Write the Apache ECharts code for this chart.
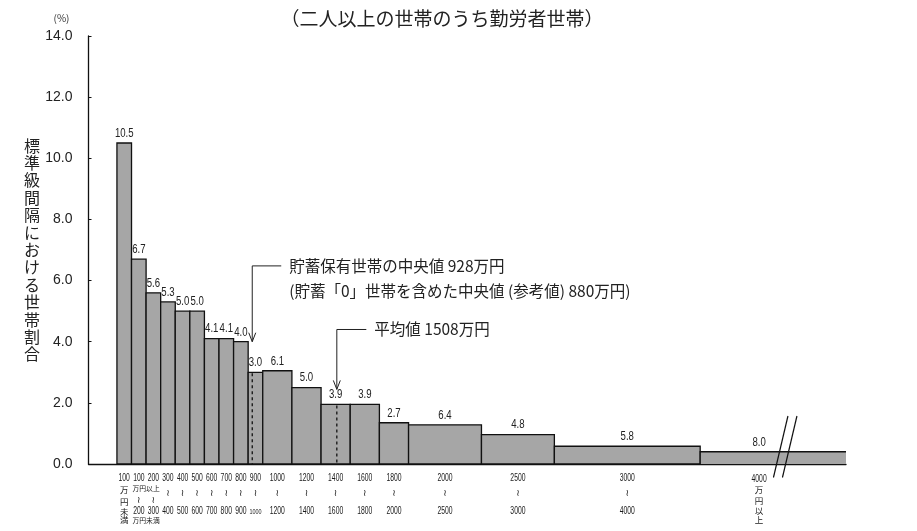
<!DOCTYPE html>
<html><head><meta charset="utf-8">
<script src="https://cdn.jsdelivr.net/npm/echarts@6/dist/echarts.min.js"></script>
<style>html,body{margin:0;padding:0;background:#fff}#c{width:917px;height:531px}</style>
</head><body><div id="c"></div>
<script>
// ---- data ----
const binStart = [0,100,200,300,400,500,600,700,800,900,1000,1200,1400,1600,1800,2000,2500,3000,4000];
const binEnd   = [100,200,300,400,500,600,700,800,900,1000,1200,1400,1600,1800,2000,2500,3000,4000,5000];
const shareLabels = ['10.5','6.7','5.6','5.3','5.0','5.0','4.1','4.1','4.0','3.0','6.1','5.0','3.9','3.9','2.7','6.4','4.8','5.8','8.0'];
const densityHeights = [10.5,6.7,5.6,5.3,5.0,5.0,4.1,4.1,4.0,3.0,3.05,2.5,1.95,1.95,1.35,1.28,0.96,0.58,0.4];
const lowerLabels = ['100','100','200','300','400','500','600','700','800','900','1000','1200','1400','1600','1800','2000','2500','3000','4000'];
const upperLabels = ['','200','300','400','500','600','700','800','900','1000','1200','1400','1600','1800','2000','2500','3000','4000',''];
const firstUnit = ['万','円','未','満'];
const lastUnit = ['万','円','以','上'];
const sharedNotes = ['万円以上','万円未満'];
const markerValues = [928, 1508];
const markerTexts = [
  ['貯蓄保有世帯の中央値 928万円', '(貯蓄「0」世帯を含めた中央値 (参考値) 880万円)'],
  ['平均値 1508万円']
];
const yTickLabels = ['0.0','2.0','4.0','6.0','8.0','10.0','12.0','14.0'];
const titleText = '（二人以上の世帯のうち勤労者世帯）';
const yTitle = '標準級間隔における世帯割合';
const unitText = '(%)';

// ---- rendering ----
const SANS = '"Liberation Sans","DejaVu Sans",sans-serif';
const JP = '"Noto Sans CJK JP","Noto Sans",sans-serif';
const TXT = '#222';

function txt(x, y, s, size, family, sx) {
  return {type:'text', x:x, y:y, scaleX: sx || 1,
    style:{text:s, align:'center', verticalAlign:'middle', font: size+'px '+family, fill:'#1a1a1a'}};
}

function renderBar(params, api) {
  const i = params.dataIndex;
  const last = i === binStart.length - 1;
  const x0 = api.value(0), x1 = api.value(1), h = api.value(2);
  const p0 = api.coord([x0, 0]), p1 = api.coord([x1, h]);
  const base = p0[1];
  const ch = [];
  ch.push({type:'rect', shape:{x:p0[0], y:p1[1], width:p1[0]-p0[0], height:base-p1[1]},
    style:{fill:'#a6a6a6', stroke: last ? null : '#111', lineWidth:1.3}});
  if (last) {
    ch.push({type:'polyline', shape:{points:[[p0[0],base],[p0[0],p1[1]],[p1[0],p1[1]]]},
      style:{stroke:'#111', lineWidth:1.3, fill:null}});
    const b = api.coord([4523, 0]);
    [0, 9].forEach(function(d){
      ch.push({type:'line', shape:{x1:b[0]+d-3, y1:base+13.5, x2:b[0]+d+11.5, y2:base-48},
        style:{stroke:'#111', lineWidth:1.2}, z2: 10});
    });
  }
  const cx = (p0[0]+p1[0])/2 + (last ? -14 : 0);
  ch.push({type:'text', x:cx, y:p1[1]-3.5, scaleX:0.8,
    style:{text:shareLabels[i], align:'center', verticalAlign:'bottom', font:'12px '+SANS, fill:TXT}});
  const NS = 0.68, NF = 10, TF = 9.5, TILDE = '"DejaVu Sans",sans-serif';
  if (i === 0) {
    ch.push(txt(cx, base+14.5, lowerLabels[i], NF, SANS, NS));
    [26, 37.5, 47.5, 56].forEach(function(o, k){ ch.push(txt(cx, base+o, firstUnit[k], 8.5, JP)); });
  } else if (last) {
    ch.push(txt(cx, base+15, lowerLabels[i], NF, SANS, NS));
    [26, 36.5, 46.5, 56].forEach(function(o, k){ ch.push(txt(cx, base+o, lastUnit[k], 8.5, JP)); });
  } else if (i === 1 || i === 2) {
    ch.push(txt(cx, base+14.5, lowerLabels[i], NF, SANS, NS));
    ch.push(txt(cx, base+37, '≀', TF, TILDE));
    ch.push(txt(cx, base+47.5, upperLabels[i], NF, SANS, NS));
    if (i === 1) {
      ch.push(txt(p1[0], base+24.5, sharedNotes[0], 6.8, JP));
      ch.push(txt(p1[0], base+56, sharedNotes[1], 6.8, JP));
    }
  } else {
    ch.push(txt(cx, base+14.5, lowerLabels[i], NF, SANS, NS));
    ch.push(txt(cx, base+29.5, '≀', TF, TILDE));
    ch.push(txt(cx, base+47.5, upperLabels[i], i === 9 ? 8 : NF, SANS, NS));
  }
  return {type:'group', children:ch};
}

const arrowGeom = [{elbow:6.48, tip:4.0, len:29}, {elbow:4.4, tip:2.44, len:29.5}];

function renderMarker(params, api) {
  const i = params.dataIndex;
  const v = api.value(0);
  let bin = 0;
  for (let k = 0; k < binStart.length; k++) if (v >= binStart[k] && v < binEnd[k]) bin = k;
  const top = api.coord([v, densityHeights[bin]]);
  const bottom = api.coord([v, 0]);
  const g = arrowGeom[i];
  const e = api.coord([v, g.elbow]);
  const t = api.coord([v, g.tip]);
  const ch = [];
  ch.push({type:'line', shape:{x1:top[0], y1:top[1]+1, x2:bottom[0], y2:bottom[1]},
    style:{stroke:'#111', lineWidth:1.3, lineDash:[3,3]}});
  ch.push({type:'polyline', shape:{points:[[e[0]+g.len, e[1]],[e[0], e[1]],[t[0], t[1]]]},
    style:{stroke:'#222', lineWidth:1, fill:null}});
  ch.push({type:'polyline', shape:{points:[[t[0]-3.5, t[1]-9],[t[0], t[1]],[t[0]+3.5, t[1]-9]]},
    style:{stroke:'#222', lineWidth:1, fill:null}});
  markerTexts[i].forEach(function(s, k){
    ch.push({type:'text', x:e[0]+g.len+8, y:e[1]+k*25,
      style:{text:s, align:'left', verticalAlign:'middle', font:'15.5px '+JP, fill:TXT}});
  });
  return {type:'group', children:ch};
}

const chart = echarts.init(document.getElementById('c'), null, {renderer:'canvas'});
chart.setOption({
  animation:false,
  backgroundColor:'#fff',
  grid:{left:88.5, right:71, top:36, bottom:67, containLabel:false},
  xAxis:{type:'value', min:-195, max:5000, axisLine:{show:true, onZero:false, lineStyle:{color:'#111', width:1.3}},
    axisTick:{show:false}, axisLabel:{show:false}, splitLine:{show:false}},
  yAxis:{type:'value', min:0, max:14, interval:2,
    axisLine:{show:true, onZero:false, lineStyle:{color:'#111', width:1.3}},
    axisTick:{show:true, inside:true, length:3, lineStyle:{color:'#111'}},
    axisLabel:{margin:16, fontSize:14, fontFamily:SANS, color:TXT, formatter:function(v){ return yTickLabels[Math.round(v/2)]; }},
    splitLine:{show:false}},
  graphic:[
    {type:'text', x:442, y:19, style:{text:titleText, align:'center', verticalAlign:'middle', font:'19px '+JP, fill:TXT}},
    {type:'text', x:61.5, y:18, style:{text:unitText, align:'center', verticalAlign:'middle', font:'10px '+JP, fill:'#333'}},
    {type:'text', x:32, y:250, style:{text:yTitle.split('').join('\n'), align:'center', verticalAlign:'middle', font:'16px '+JP, lineHeight:17.4, fill:TXT}}
  ],
  series:[
    {type:'custom', renderItem:renderBar, clip:false, z:2,
      data: binStart.map(function(s, k){ return [s, binEnd[k], densityHeights[k]]; })},
    {type:'custom', renderItem:renderMarker, clip:false, z:3,
      data: markerValues.map(function(v){ return [v]; })}
  ]
});
</script></body></html>
